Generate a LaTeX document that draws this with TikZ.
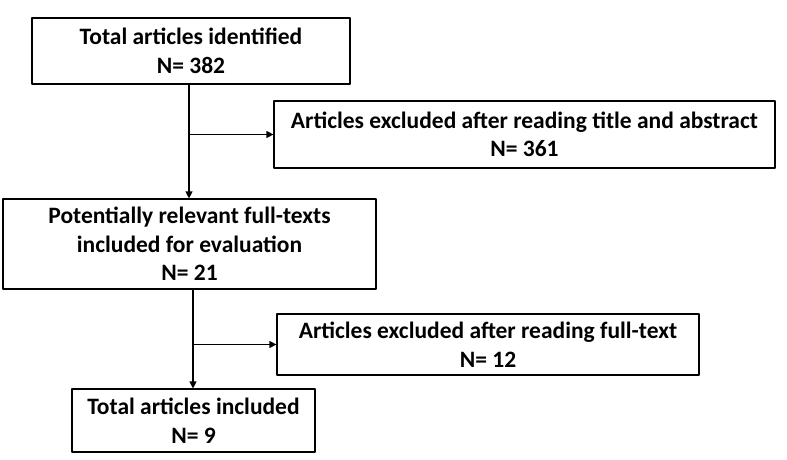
\documentclass[tikz,border=0pt]{standalone}
\usepackage{fontspec}
\setmainfont{Carlito}
\usetikzlibrary{arrows.meta}
\tikzset{
	box/.style={draw, line width=1.2pt, inner sep=0pt, align=center, font=\fontsize{23.5}{28.5}\selectfont\bfseries},
}
\begin{document}
\begin{tikzpicture}[x=1pt, y=-1pt, line width=1.2pt, line join=round, >={Triangle[length=7pt, width=7pt]}]
	\useasboundingbox (0,0) rectangle (787,460);
	\node[box, minimum width=318pt, minimum height=66pt] (ident) at (191,51) {Total articles identified\\N= 382};
	\node[box, minimum width=501pt, minimum height=67pt] (excl1) at (524.5,134.5) {Articles excluded after reading title and abstract\\N= 361};
	\node[box, minimum width=373pt, minimum height=90pt] (relev) at (189.5,244) {Potentially relevant full-texts\\included for evaluation\\N= 21};
	\node[box, minimum width=422pt, minimum height=61pt] (excl2) at (488,344.5) {Articles excluded after reading full-text\\N= 12};
	\node[box, minimum width=243pt, minimum height=63pt] (incl) at (193.5,420.5) {Total articles included\\N= 9};
	\coordinate (t1) at (189,0);
	\coordinate (t2) at (193,0);
	\draw[->] (t1 |- ident.south) -- (t1 |- relev.north);
	\draw[->] (t1 |- excl1.west) -- (excl1.west);
	\draw[->] (t2 |- relev.south) -- (t2 |- incl.north);
	\draw[->] (t2 |- excl2.west) -- (excl2.west);
\end{tikzpicture}
\end{document}
